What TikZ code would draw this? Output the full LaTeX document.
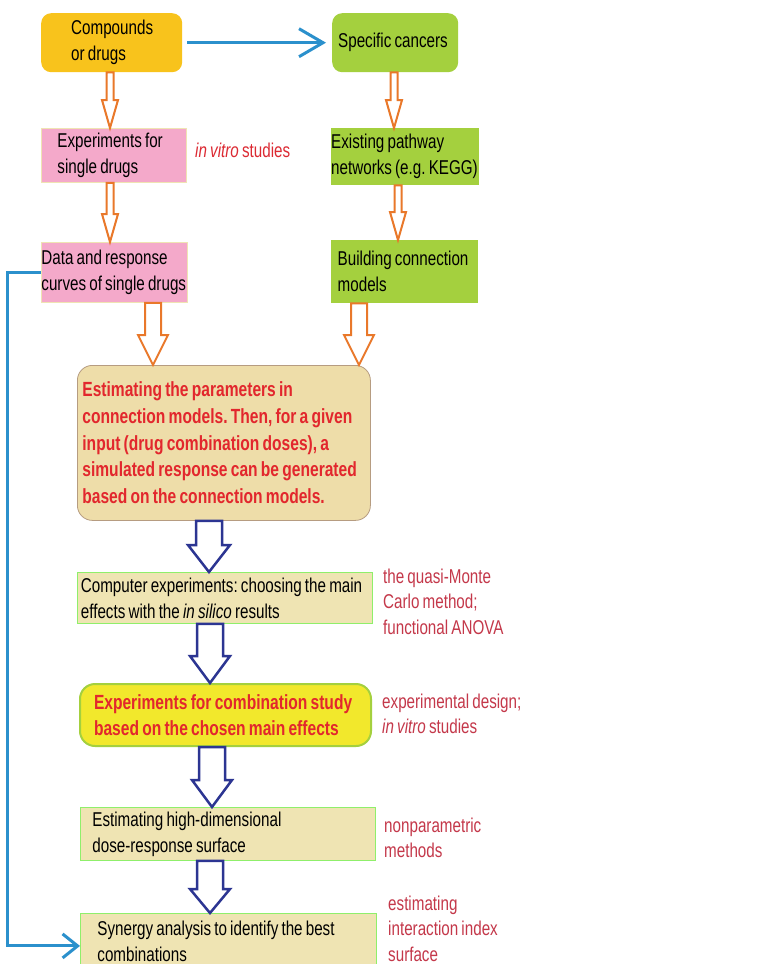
\documentclass[tikz,border=0pt]{standalone}
\usepackage{fontspec}
\setmainfont{Liberation Sans}[FakeStretch=0.76, WordSpace=0.75]
\usetikzlibrary{arrows.meta,calc}
\frenchspacing

\definecolor{DrugGold}{HTML}{F8C31C}
\definecolor{CancerGreen}{HTML}{A4D03E}
\definecolor{AssayPink}{HTML}{F4A9CA}
\definecolor{ModelWheat}{HTML}{EEDDA9}
\definecolor{StepWheat}{HTML}{EFE4B3}
\definecolor{StepYellow}{HTML}{F2E82C}
\definecolor{StepRed}{HTML}{E2272D}
\definecolor{NoteRed}{HTML}{C4384A}
\definecolor{FlowOrange}{HTML}{E9782A}
\definecolor{FlowNavy}{HTML}{2C3592}
\definecolor{LinkBlue}{HTML}{2B90CC}

% hollow block arrow: style, x, from node, to node, shaft half, head half, head length
\newcommand{\fatarrow}[7]{%
  \draw[#1] let \p1=(#2,0 |- #3.south), \p2=(#2,0 |- #4.north) in
    (\x1-#5,\y1) -- (\x1+#5,\y1) -- (\x1+#5,\y2+#7) -- (\x1+#6,\y2+#7)
    -- (\x1,\y2) -- (\x1-#6,\y2+#7) -- (\x1-#5,\y2+#7) -- cycle;}

\tikzset{
  flowbox/.style={anchor=north west, align=flush left, inner ysep=0pt,
    font=\fontsize{20}{26}\selectfont},
  drugbox/.style={flowbox, fill=DrugGold, rounded corners=10pt},
  cancerbox/.style={flowbox, fill=CancerGreen},
  cancerround/.style={flowbox, fill=CancerGreen, rounded corners=10pt},
  assaybox/.style={flowbox, fill=AssayPink, draw=StepWheat, line width=0.8pt},
  modelbox/.style={flowbox, fill=ModelWheat, draw=brown!70!black!60, line width=0.8pt,
    rounded corners=15pt, text=StepRed, font=\fontsize{20.5}{26.7}\selectfont\bfseries},
  stepbox/.style={flowbox, fill=StepWheat, draw=green!40!StepWheat, line width=0.8pt},
  combobox/.style={flowbox, fill=StepYellow, draw=CancerGreen, line width=2pt,
    rounded corners=15pt, text=StepRed, font=\fontsize{20.5}{26}\selectfont\bfseries},
  note/.style={anchor=north west, align=left, inner sep=0pt, text=NoteRed,
    font=\fontsize{20}{25.5}\selectfont},
  orangearrow/.style={draw=FlowOrange, fill=white, line width=2pt},
  navyarrow/.style={draw=FlowNavy, fill=white, line width=2.5pt},
  linkline/.style={draw=LinkBlue, line width=3pt}
}

\begin{document}
\begin{tikzpicture}[x=1pt, y=-1pt]

 \fill[white] (0,0) rectangle (772,964);
 \useasboundingbox (0,0) rectangle (772,964);

 %%%%%%%%%% Top row %%%%%%%%%%
 \node[drugbox, minimum height=59pt, text width=81pt, inner xsep=30pt] (comp) at (41,13) {Compounds\\or drugs};
 \node[cancerround, minimum height=59pt, text width=114pt, inner xsep=6pt] (spec) at (332,13) {Specific cancers};

 % left column
 \node[assaybox, minimum height=54pt, text width=113pt, inner xsep=16pt] (single) at (41,128) {Experiments for\\single drugs};
 \node[assaybox, minimum height=60pt, text width=146pt, inner xsep=0pt] (data) at (41,242) {Data and response\\curves of single drugs};

 % right column
 \node[cancerbox, minimum height=57pt, text width=148pt, inner xsep=0pt] (path) at (331,128) {Existing pathway\\networks (e.g. KEGG)};
 \node[cancerbox, minimum height=63pt, text width=134pt, inner xsep=6.5pt] (build) at (331,240) {Building connection\\models};

 %%%%%%%%%% Main flow %%%%%%%%%%
 \node[modelbox, minimum height=155pt, text width=283pt, inner xsep=5pt] (model) at (77,365)
   {Estimating the parameters in\\connection models. Then, for a given\\input (drug combination doses), a\\simulated response can be generated\\based on the connection models.};
 \node[stepbox, minimum height=51pt, text width=288pt, inner xsep=3.5pt] (silico) at (77,572)
   {Computer experiments: choosing the main\\effects with the \textit{in silico} results};
 \node[combobox, minimum height=62pt, text width=263pt, inner xsep=14pt] (combo) at (79,683)
   {Experiments for combination study\\based on the chosen main effects};
 \node[stepbox, minimum height=53pt, text width=271pt, inner xsep=12pt] (surf) at (80,807)
   {Estimating high-dimensional\\dose-response surface};
 \node[stepbox, minimum height=56pt, text width=262pt, inner xsep=17pt] (syn) at (80,913)
   {Synergy analysis to identify the best\\combinations};

 %%%%%%%%%% Side notes %%%%%%%%%%
 \node[note, text=StepRed!80!NoteRed] (vitro) at (195,142.5) {\textit{in vitro} studies};
 \node[note] (qmc) at (383,568.5) {the quasi-Monte\\Carlo method;\\functional ANOVA};
 \node[note] (design) at (382,693.5) {experimental design;\\\textit{in vitro} studies};
 \node[note] (nonpar) at (384,817.5) {nonparametric\\methods};
 \node[note] (index) at (388,895.5) {estimating\\interaction index\\surface};

 %%%%%%%%%% Arrows %%%%%%%%%%
 \draw[linkline, -{Straight Barb[length=24pt,width=28pt]}, shorten <=5pt, shorten >=6pt] (comp) -- (spec);

 \fatarrow{orangearrow}{110}{comp}{single}{3.5pt}{8pt}{28pt}
 \fatarrow{orangearrow}{110}{single}{data}{3.5pt}{8pt}{28pt}
 \fatarrow{orangearrow}{394}{spec}{path}{3.5pt}{8pt}{28pt}
 \fatarrow{orangearrow}{398}{path}{build}{3.5pt}{8pt}{28pt}

 \fatarrow{orangearrow}{153}{data}{model}{8pt}{15pt}{30pt}
 \fatarrow{orangearrow}{359}{build}{model}{8pt}{15pt}{30pt}

 \fatarrow{navyarrow}{209}{model}{silico}{13pt}{21pt}{27pt}
 \fatarrow{navyarrow}{210}{silico}{combo}{13pt}{20pt}{27pt}
 \fatarrow{navyarrow}{212}{combo}{surf}{13pt}{20pt}{27pt}
 \fatarrow{navyarrow}{210}{surf}{syn}{13pt}{20pt}{24pt}

 % feedback from single-drug data
 \draw[linkline, -{Straight Barb[length=15pt,width=24pt]}] (data.west) -- ++(-34,0) |- ([yshift=-4.5pt]syn.west);

\end{tikzpicture}
\end{document}
